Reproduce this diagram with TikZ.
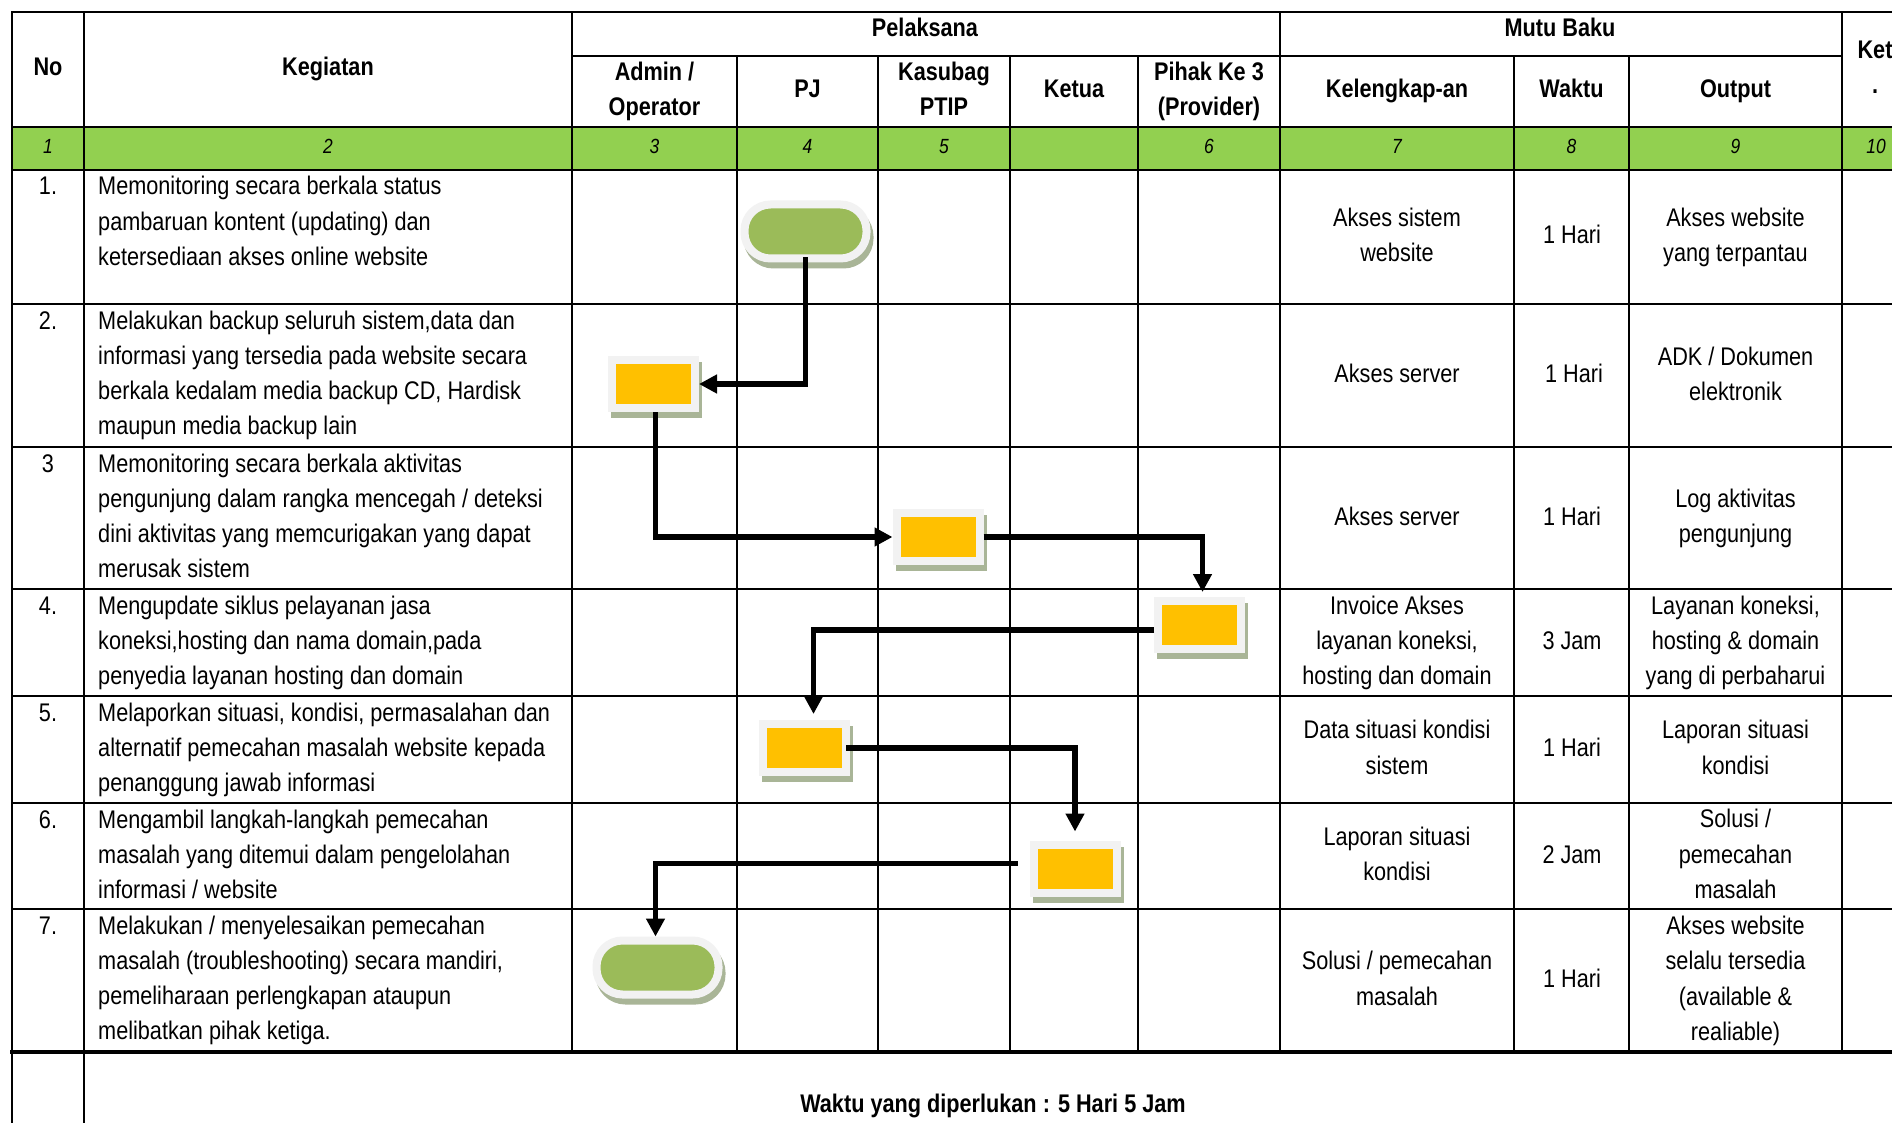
\documentclass[tikz,border=0pt]{standalone}
\usepackage{fontspec}
\setmainfont{Liberation Sans}[FakeStretch=0.85]
\usetikzlibrary{arrows.meta}
\definecolor{rowG}{HTML}{92D050}
\definecolor{termG}{HTML}{9BBB59}
\definecolor{procO}{HTML}{FFC000}
\definecolor{rimC}{HTML}{F2F2F2}
\definecolor{shadC}{HTML}{A9B597}
\newcommand\txtlines[5]{\foreach \s [count=\i] in {#5}{\node[#4] (#1-\i) at (#2,{#3+(\i-1)*35.3}) {\s};}}
\begin{document}
\begin{tikzpicture}[x=1pt,y=-1pt,
  txt/.style={font=\fontsize{25.5}{35}\selectfont, inner sep=0pt},
  hdr/.style={font=\fontsize{25.5}{35}\selectfont\bfseries, inner sep=0pt, anchor=base},
  num/.style={font=\fontsize{20.5}{24}\selectfont\itshape, inner sep=0pt, anchor=base},
  grid/.style={line width=2.2pt, line cap=rect},
  shad/.style={preaction={fill=shadC, draw=shadC, line width=8pt, transform canvas={xshift=3pt, yshift=-6pt}}},
  procbox/.style={rectangle, minimum width=83pt, minimum height=48pt, inner sep=0pt, fill=procO, draw=rimC, line width=8pt, shad},
  termbox/.style={rectangle, rounded corners=26pt, minimum width=122pt, minimum height=54pt, inner sep=0pt, fill=termG, draw=rimC, line width=8pt, shad},
  conn/.style={line width=5.5pt, -{Triangle[length=18pt,width=18pt]}}
]
\useasboundingbox (0,0) rectangle (1892,1123);
\fill[white] (0,0) rectangle (1892,1123);
\clip (0,0) rectangle (1892,1123);

% green numbering row
\fill[rowG] (12,127) rectangle (1930,170);

% grid
\draw[grid] (12,12) -- (1930,12);
\draw[grid] (572,56) -- (1842,56);
\foreach \yy in {127,170,304,447,589,696,803,909}{\draw[grid] (12,\yy) -- (1930,\yy);}
\draw[grid, line width=3.2pt] (12,1052) -- (1930,1052);
\draw[grid] (12,12) -- (12,1140);
\draw[grid] (84,12) -- (84,1140);
\foreach \xx in {572,1280,1842}{\draw[grid] (\xx,12) -- (\xx,1052);}
\foreach \xx in {737,878,1010,1138,1514,1629}{\draw[grid] (\xx,56) -- (\xx,1052);}

% header
\node[hdr] (hNo) at (48,76) {No};
\node[hdr] (hKeg) at (328,76) {Kegiatan};
\node[hdr] (hPel) at (925,36.5) {Pelaksana};
\node[hdr] (hMutu) at (1560,36.5) {Mutu Baku};
\txtlines{hAdm}{654.5}{80.5}{hdr}{Admin /,Operator}
\node[hdr] (hPJ) at (807.5,98) {PJ};
\txtlines{hKas}{944}{80.5}{hdr}{Kasubag,PTIP}
\node[hdr] (hKetua) at (1074,98) {Ketua};
\txtlines{hPih}{1209}{80.5}{hdr}{Pihak Ke 3,{(Provider)}}
\node[hdr] (hKel) at (1397,98) {Kelengkap-an};
\node[hdr] (hWak) at (1571.5,98) {Waktu};
\node[hdr] (hOut) at (1735.5,98) {Output};
\node[hdr] (hKet) at (1875,59) {Ket};
\node[hdr] (hKetDot) at (1875,94) {.};

% numbering row
\node[num] (g1) at (48,153.5) {1};
\node[num] (g2) at (328,153.5) {2};
\node[num] (g3) at (654.5,153.5) {3};
\node[num] (g4) at (807.5,153.5) {4};
\node[num] (g5) at (944,153.5) {5};
\node[num] (g6) at (1209,153.5) {6};
\node[num] (g7) at (1397,153.5) {7};
\node[num] (g8) at (1571.5,153.5) {8};
\node[num] (g9) at (1735.5,153.5) {9};
\node[num] (g10) at (1876,153.5) {10};

% No column
\node[txt,anchor=base] (n1) at (48,195) {1.};
\node[txt,anchor=base] (n2) at (48,329) {2.};
\node[txt,anchor=base] (n3) at (48,472) {3};
\node[txt,anchor=base] (n4) at (48,614) {4.};
\node[txt,anchor=base] (n5) at (48,721) {5.};
\node[txt,anchor=base] (n6) at (48,828) {6.};
\node[txt,anchor=base] (n7) at (48,934) {7.};

% Kegiatan
\txtlines{k1}{98}{195}{txt,anchor=base west}{Memonitoring secara berkala status,pambaruan kontent (updating) dan,ketersediaan akses online website}
\txtlines{k2}{98}{329}{txt,anchor=base west}{{Melakukan backup seluruh sistem,data dan},informasi yang tersedia pada website secara,{berkala kedalam media backup CD, Hardisk},maupun media backup lain}
\txtlines{k3}{98}{472}{txt,anchor=base west}{Memonitoring secara berkala aktivitas,pengunjung dalam rangka mencegah / deteksi,dini aktivitas yang memcurigakan yang dapat,merusak sistem}
\txtlines{k4}{98}{614}{txt,anchor=base west}{Mengupdate siklus pelayanan jasa,{koneksi,hosting dan nama domain,pada},penyedia layanan hosting dan domain}
\txtlines{k5}{98}{721}{txt,anchor=base west}{{Melaporkan situasi, kondisi, permasalahan dan},alternatif pemecahan masalah website kepada,penanggung jawab informasi}
\txtlines{k6}{98}{828}{txt,anchor=base west}{Mengambil langkah-langkah pemecahan,masalah yang ditemui dalam pengelolahan,informasi / website}
\txtlines{k7}{98}{934}{txt,anchor=base west}{Melakukan / menyelesaikan pemecahan,{masalah (troubleshooting) secara mandiri,},pemeliharaan perlengkapan ataupun,melibatkan pihak ketiga.}

% Mutu baku columns
\txtlines{c1}{1397}{226.5}{txt,anchor=base}{Akses sistem,website}
\node[txt,anchor=base] (w1) at (1572,244) {1 Hari};
\txtlines{o1}{1735.5}{226.5}{txt,anchor=base}{Akses website,yang terpantau}

\node[txt,anchor=base] (c2) at (1397,382.5) {Akses server};
\node[txt,anchor=base] (w2) at (1574,382.5) {1 Hari};
\txtlines{o2}{1735.5}{365}{txt,anchor=base}{ADK / Dokumen,elektronik}

\node[txt,anchor=base] (c3) at (1397,525) {Akses server};
\node[txt,anchor=base] (w3) at (1572,525) {1 Hari};
\txtlines{o3}{1735.5}{507.5}{txt,anchor=base}{Log aktivitas,pengunjung}

\txtlines{c4}{1397}{614.2}{txt,anchor=base}{Invoice Akses,{layanan koneksi,},hosting dan domain}
\node[txt,anchor=base] (w4) at (1572,649.5) {3 Jam};
\txtlines{o4}{1735.5}{614.2}{txt,anchor=base}{{Layanan koneksi,},hosting \& domain,yang di perbaharui}

\txtlines{c5}{1397}{738.8}{txt,anchor=base}{Data situasi kondisi,sistem}
\node[txt,anchor=base] (w5) at (1572,756.5) {1 Hari};
\txtlines{o5}{1735.5}{738.8}{txt,anchor=base}{Laporan situasi,kondisi}

\txtlines{c6}{1397}{845.3}{txt,anchor=base}{Laporan situasi,kondisi}
\node[txt,anchor=base] (w6) at (1572,863) {2 Jam};
\txtlines{o6}{1735.5}{827.7}{txt,anchor=base}{Solusi /,pemecahan,masalah}

\txtlines{c7}{1397}{969.8}{txt,anchor=base}{Solusi / pemecahan,masalah}
\node[txt,anchor=base] (w7) at (1572,987.5) {1 Hari};
\txtlines{o7}{1735.5}{934.5}{txt,anchor=base}{Akses website,selalu tersedia,{(available \&},{realiable)}}

% footer
\node[hdr] (foot) at (993,1112) {Waktu yang diperlukan : 5 Hari 5 Jam};

% flow shapes
\node[termbox] (t1) at (805.5,231.5) {};
\node[procbox] (b2) at (653.5,384) {};
\node[procbox] (b3) at (938,537) {};
\node[procbox] (b4) at (1199.5,625) {};
\node[procbox] (b5) at (804.5,748) {};
\node[procbox] (b6) at (1075,868.5) {};
\node[termbox] (t2) at (657.5,967.5) {};

% connectors
\draw[conn] ([yshift=-26pt]t1.center) |- (b2.east);
\draw[conn] ([xshift=2pt]b2.south) |- (b3.west);
\draw[conn] (b3.east) -| ([xshift=3pt,yshift=5pt]b4.north);
\draw[conn] ([yshift=-5pt]b4.west) -| ([xshift=9pt,yshift=6pt]b5.north);
\draw[conn] ([xshift=-4pt]b5.east) -| ([yshift=9pt]b6.north);
\draw[conn] ([xshift=-12pt,yshift=5pt]b6.west) -| ([xshift=-2pt]t2.north);
\end{tikzpicture}
\end{document}
